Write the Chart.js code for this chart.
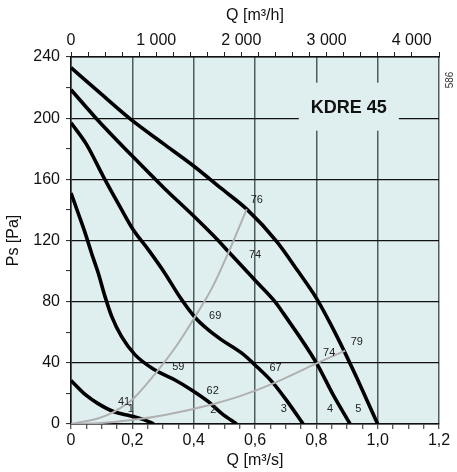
<!DOCTYPE html>
<html>
<head>
<meta charset="utf-8">
<title>KDRE 45</title>
<script src="https://cdn.jsdelivr.net/npm/chart.js@4/dist/chart.umd.min.js"></script>
<style>
  html, body { margin: 0; padding: 0; background: #fff; }
  #wrap { width: 457px; height: 472px; }
</style>
</head>
<body>
<div id="wrap"><canvas id="fanChart" width="457" height="472"></canvas></div>
<script>
// fan curves, Q in m3/s, Ps in Pa
const curve1Q = [0, 0.048, 0.087, 0.14, 0.195, 0.243, 0.27];
const curve1P = [28.5, 19, 13.5, 8, 5.3, 2.4, 0];

const curve2Q = [0, 0.025, 0.046, 0.067, 0.089, 0.111, 0.133, 0.165, 0.209, 0.274, 0.339, 0.393, 0.448, 0.491, 0.54];
const curve2P = [151, 137, 125, 111.7, 98.6, 83.3, 70.2, 57.1, 45.2, 35.3, 28.8, 22.3, 14.6, 7, 0];

const curve3Q = [0, 0.05, 0.105, 0.16, 0.203, 0.252, 0.306, 0.355, 0.404, 0.448, 0.491, 0.557, 0.6, 0.66, 0.71, 0.757];
const curve3P = [197, 183, 162, 142, 127, 114, 98.6, 83, 69.8, 61.5, 55, 46.3, 38.6, 26.6, 13.5, 0];

const curve4Q = [0, 0.0815, 0.196, 0.304, 0.4, 0.48, 0.513, 0.6, 0.665, 0.692, 0.801, 0.855, 0.91];
const curve4P = [218.6, 200, 176, 154.2, 136, 120, 112.8, 94, 80, 72.5, 39.7, 19, 0];

const curve5Q = [0, 0.1, 0.196, 0.3, 0.402, 0.489, 0.573, 0.671, 0.74, 0.801, 0.85, 0.89, 0.93, 0.965, 1.0];
const curve5P = [233, 215.5, 199, 183.5, 168.4, 154.2, 140.5, 119.3, 100, 82, 64, 48, 31, 15.5, 0];

// grey system lines
const systemAQ = [0, 0.09, 0.138, 0.2, 0.275, 0.34, 0.404, 0.46, 0.513, 0.573];
const systemAP = [0, 3.8, 7.8, 16, 33, 50, 70, 89, 112, 140.5];

const systemBQ = [0, 0.1, 0.198, 0.306, 0.459, 0.551, 0.66, 0.801, 0.894];
const systemBP = [0, 0.7, 2.6, 5.9, 12.8, 18.2, 26.6, 39.7, 48];

// small numbers written on the chart (sound levels and speed steps)
const noteTexts = ['76', '74', '69', '59', '62', '41', '1', '2', '67', '3', '74', '79', '4', '5'];
const noteQ = [0.606, 0.600, 0.470, 0.350, 0.462, 0.173, 0.195, 0.464, 0.667, 0.694, 0.842, 0.932, 0.845, 0.937];
const noteP = [146.6, 110.5, 70.7, 37.5, 21.8, 14.6, 9.8, 9.2, 36.5, 9.6, 46.3, 53.7, 9.6, 9.6];

const modelName = 'KDRE 45';
const modelQ = 0.906;
const modelP = 207.5;
const figureNo = '586';

const QMAX = 1.2;       // m3/s
const PMAX = 240;       // Pa
const QMAX_H = QMAX * 3600; // m3/h on the top axis

const FONT = 'Liberation Sans, Arial, Helvetica, sans-serif';
const BG = '#dfefef';

function toPoints(qs, ps) {
    return qs.map((q, i) => ({ x: q, y: ps[i] }));
}

function fanLine(qs, ps) {
    return {
        data: toPoints(qs, ps),
        borderColor: '#000',
        borderWidth: 3.6,
        pointRadius: 0,
        cubicInterpolationMode: 'monotone',
        order: 2
    };
}

function systemLine(qs, ps) {
    return {
        data: toPoints(qs, ps),
        borderColor: '#b0b0b0',
        borderWidth: 2,
        pointRadius: 0,
        cubicInterpolationMode: 'monotone',
        order: 1
    };
}

const isStep = (v, step) => Math.abs(v / step - Math.round(v / step)) < 1e-6;

const backgroundPlugin = {
    id: 'plotBackground',
    beforeDraw(chart) {
        const { ctx, chartArea: a } = chart;
        ctx.save();
        ctx.fillStyle = BG;
        ctx.fillRect(a.left, a.top, a.right - a.left, a.bottom - a.top);
        ctx.restore();
    }
};

const notesPlugin = {
    id: 'notes',
    beforeDatasetsDraw(chart) {
        // name box covers the grid lines
        const { ctx } = chart;
        const xs = chart.scales.x, ys = chart.scales.y;
        const cx = xs.getPixelForValue(modelQ);
        const cy = ys.getPixelForValue(modelP);
        ctx.save();
        ctx.fillStyle = BG;
        ctx.fillRect(cx - 50, cy - 24, 100, 48);
        ctx.fillStyle = '#111';
        ctx.font = 'bold 18px ' + FONT;
        ctx.textAlign = 'center';
        ctx.textBaseline = 'middle';
        ctx.fillText(modelName, cx, cy + 1);
        ctx.restore();
    },
    afterDatasetsDraw(chart) {
        const { ctx } = chart;
        const xs = chart.scales.x, ys = chart.scales.y;
        ctx.save();
        ctx.fillStyle = '#222';
        ctx.font = '11px ' + FONT;
        ctx.textAlign = 'center';
        ctx.textBaseline = 'middle';
        noteTexts.forEach((t, i) => {
            ctx.fillText(t, xs.getPixelForValue(noteQ[i]), ys.getPixelForValue(noteP[i]));
        });
        ctx.restore();
    },
    afterDraw(chart) {
        const { ctx } = chart;
        ctx.save();
        ctx.translate(450, 80);
        ctx.rotate(-Math.PI / 2);
        ctx.fillStyle = '#333';
        ctx.font = '10px ' + FONT;
        ctx.textAlign = 'center';
        ctx.textBaseline = 'middle';
        ctx.fillText(figureNo, 0, 0);
        ctx.restore();
    }
};

const ctx = document.getElementById('fanChart').getContext('2d');
new Chart(ctx, {
    type: 'line',
    data: {
        datasets: [
            fanLine(curve1Q, curve1P),
            fanLine(curve2Q, curve2P),
            fanLine(curve3Q, curve3P),
            fanLine(curve4Q, curve4P),
            fanLine(curve5Q, curve5P),
            systemLine(systemAQ, systemAP),
            systemLine(systemBQ, systemBP)
        ]
    },
    options: {
        responsive: false,
        animation: false,
        devicePixelRatio: 1,
        layout: { padding: { left: 0, right: 18, top: 0, bottom: 0 } },
        plugins: {
            legend: { display: false },
            tooltip: { enabled: false }
        },
        scales: {
            x: {
                type: 'linear',
                position: 'bottom',
                min: 0,
                max: QMAX,
                afterFit(scale) { scale.height = 48; },
                ticks: {
                    stepSize: 0.05,
                    autoSkip: false,
                    maxRotation: 0,
                    padding: 2,
                    color: '#111',
                    font: { family: FONT, size: 16 },
                    callback: v => isStep(v, 0.2) ? (v === 0 ? '0' : v.toFixed(1).replace('.', ',')) : ''
                },
                grid: {
                    color: c => (c.tick && isStep(c.tick.value, 0.2)) ? '#4e5d5d' : 'rgba(0,0,0,0)',
                    lineWidth: 1.5,
                    tickColor: '#222',
                    tickWidth: 1,
                    tickLength: 5
                },
                border: { color: '#111', width: 1.5 },
                title: {
                    display: true,
                    text: 'Q [m³/s]',
                    color: '#111',
                    font: { family: FONT, size: 16 },
                    padding: { top: 0, bottom: 2 }
                }
            },
            x2: {
                type: 'linear',
                position: 'top',
                min: 0,
                max: QMAX_H,
                afterFit(scale) { scale.height = 57; },
                ticks: {
                    stepSize: 200,
                    autoSkip: false,
                    maxRotation: 0,
                    padding: 2,
                    color: '#111',
                    font: { family: FONT, size: 16 },
                    callback: v => (isStep(v, 1000) ? (v >= 1000 ? Math.floor(v / 1000) + ' 000' : '0') : '')
                },
                grid: {
                    drawOnChartArea: false,
                    tickColor: '#222',
                    tickWidth: 1,
                    tickLength: 5
                },
                border: { color: '#111', width: 1.5 },
                title: {
                    display: true,
                    text: 'Q [m³/h]',
                    color: '#111',
                    font: { family: FONT, size: 16 },
                    padding: { top: 6, bottom: 0 }
                }
            },
            y: {
                type: 'linear',
                position: 'left',
                min: 0,
                max: PMAX,
                afterFit(scale) { scale.width = 71; },
                ticks: {
                    stepSize: 20,
                    autoSkip: false,
                    padding: 6,
                    color: '#111',
                    font: { family: FONT, size: 16 },
                    callback: v => isStep(v, 40) ? String(v) : ''
                },
                grid: {
                    color: c => (c.tick && isStep(c.tick.value, 40)) ? '#111' : 'rgba(0,0,0,0)',
                    lineWidth: 1.2,
                    tickColor: '#222',
                    tickWidth: 1,
                    tickLength: 5
                },
                border: { color: '#111', width: 1.5 },
                title: {
                    display: true,
                    text: 'Ps [Pa]',
                    color: '#111',
                    font: { family: FONT, size: 16 },
                    padding: { top: 4, bottom: 0 }
                }
            }
        }
    },
    plugins: [backgroundPlugin, notesPlugin]
});
</script>
</body>
</html>
